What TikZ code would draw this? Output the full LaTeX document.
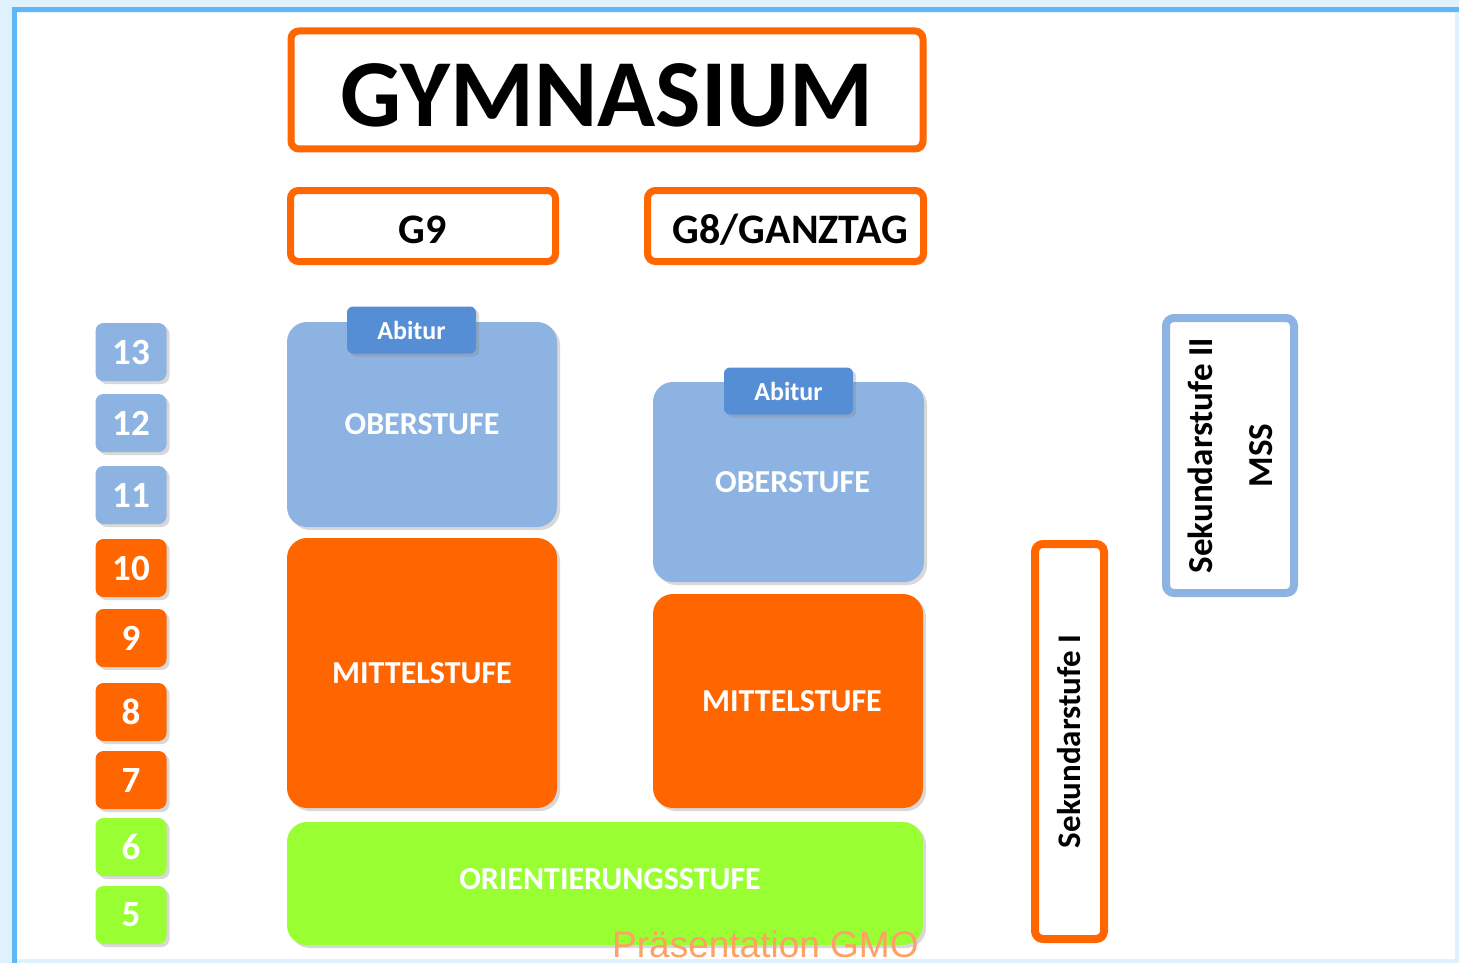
\documentclass[tikz,border=0pt]{standalone}
\usepackage{fontspec}
\setmainfont{Carlito}
\newfontfamily\wmfont{Liberation Sans}
\usepackage{tikz}
\usetikzlibrary{positioning, shadows}
\definecolor{oberblue}{RGB}{141,179,226}
\definecolor{abiblue}{RGB}{85,142,213}
\definecolor{mittelorange}{RGB}{255,102,0}
\definecolor{orientgreen}{RGB}{153,255,51}
\definecolor{framelight}{RGB}{222,241,252}
\definecolor{frameblue}{RGB}{95,184,246}
\definecolor{wmcolor}{RGB}{255,160,100}
\tikzstyle{shad}=[drop shadow={shadow xshift=3pt, shadow yshift=-3pt, opacity=.3}]
\tikzstyle{titlebox}=[draw=mittelorange, fill=white, line width=7pt, rounded corners=8pt, shad, inner sep=0pt, font=\bfseries]
\tikzstyle{stufe}=[rounded corners=20pt, shad, inner sep=0pt, text=white, font=\bfseries\fontsize{32}{36}\selectfont]
\tikzstyle{abi}=[fill=abiblue, rounded corners=6pt, shad, inner sep=0pt, text=white, font=\bfseries\fontsize{26}{30}\selectfont, minimum width=129pt, minimum height=47pt]
\tikzstyle{grade}=[rounded corners=8pt, shad, inner sep=0pt, text=white, font=\bfseries\fontsize{37}{40}\selectfont, minimum width=71pt, minimum height=58pt]
\tikzstyle{sekbox}=[fill=white, line width=8pt, rounded corners=8pt, shad, inner sep=0pt, rotate=90, align=center, font=\bfseries\fontsize{33}{60}\selectfont]

\begin{document}
\begin{tikzpicture}[x=1pt, y=-1pt]
\useasboundingbox (0,0) rectangle (1459,963);
% frame of the slide
\fill[framelight] (0,0) rectangle (1459,963);
\fill[white] (16,13) rectangle (1455,959);
\draw[frameblue, line width=5pt] (14,963) -- (14,10) -- (1459,10);

% headings
\node[titlebox, minimum width=632pt, minimum height=118pt, text height=74pt, text depth=0pt, font=\bfseries\fontsize{96}{100}\selectfont] (gym) at (607,90) {GYMNASIUM};
\node[titlebox, minimum width=265pt, minimum height=71pt, text height=35pt, text depth=0pt, font=\bfseries\fontsize{42}{46}\selectfont] (g9) at (423,226) {G9};
\node[titlebox, minimum width=276pt, minimum height=71pt, text height=35pt, text depth=0pt, font=\bfseries\fontsize{42}{46}\selectfont] (g8) at (785.5,226) {\hspace{10pt}G8/GANZTAG};

% G9 column
\node[stufe, fill=oberblue, minimum width=270pt, minimum height=205pt] (ober9) at (422,424.5) {OBERSTUFE};
\node[abi] (abi9) at (411.5,330) {Abitur};
\node[stufe, fill=mittelorange, minimum width=270pt, minimum height=270pt] (mittel9) at (422,673) {MITTELSTUFE};

% G8 column
\node[stufe, fill=oberblue, minimum width=271pt, minimum height=200pt] (ober8) at (788.5,482) {\hspace{8pt}OBERSTUFE};
\node[abi] (abi8) at (788.5,391) {Abitur};
\node[stufe, fill=mittelorange, minimum width=270pt, minimum height=214pt] (mittel8) at (788,701) {\hspace{8pt}MITTELSTUFE};

\node[stufe, fill=orientgreen, minimum width=636pt, minimum height=123pt, text height=21pt, text depth=10pt] (orient) at (605,883.5) {\hspace{10pt}ORIENTIERUNGSSTUFE};

% grades
\foreach \g/\yy/\col in {13/352/oberblue, 12/423/oberblue, 11/495/oberblue, 10/568/mittelorange, 9/638/mittelorange, 8/712/mittelorange, 7/780/mittelorange, 6/847/orientgreen, 5/915/orientgreen}
{
\node[grade, fill=\col] (k\g) at (131,\yy) {\g};
}

% Sekundarstufen
\node[sekbox, draw=mittelorange, minimum width=395pt, minimum height=69pt] (sek1) at (1069.5,741.5) {Sekundarstufe I};
\node[sekbox, draw=oberblue, minimum width=275pt, minimum height=128pt, font=\bfseries\fontsize{35}{60}\selectfont] (sek2) at (1230,455.5) {Sekundarstufe II\\MSS};

\node[anchor=base west, inner sep=0pt, text=wmcolor, font=\wmfont\fontsize{37}{40}\selectfont] (wm) at (612,957) {Präsentation GMO};
\end{tikzpicture}
\end{document}
